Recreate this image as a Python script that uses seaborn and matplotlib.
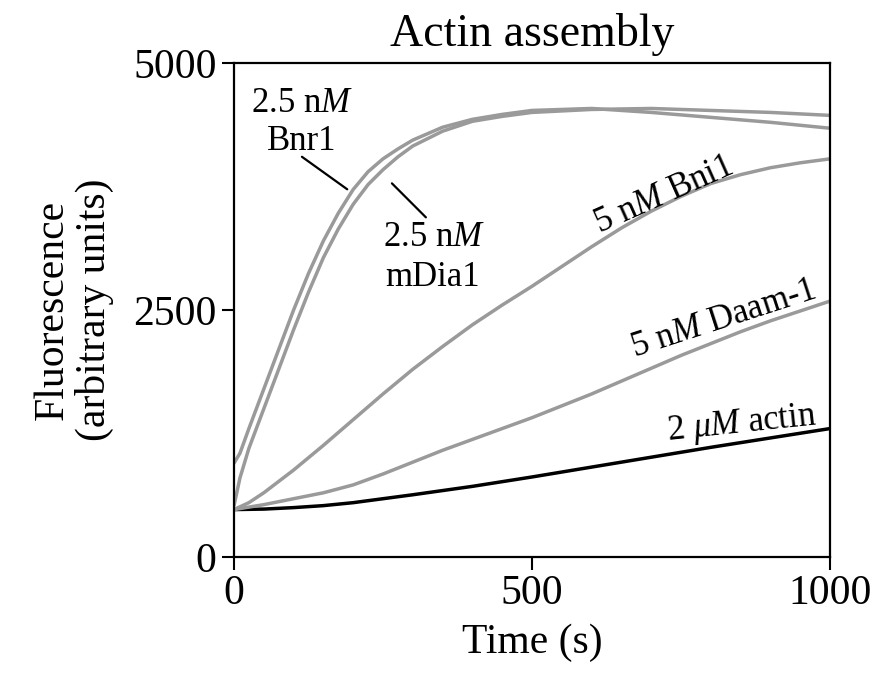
import pandas as pd
import seaborn as sns
import matplotlib.pyplot as plt

# values (time in s, fluorescence in a.u.)
actin_t = [0, 50, 100, 150, 200, 250, 300, 400, 500, 600, 700, 800, 900, 1000]
actin_v = [480, 485, 500, 520, 550, 590, 630, 715, 810, 910, 1010, 1110, 1205, 1300]

daam_t = [0, 50, 100, 150, 200, 250, 300, 350, 400, 450, 500, 550, 600, 650, 700, 750, 800, 850, 900, 950, 1000]
daam_v = [480, 530, 590, 650, 730, 840, 960, 1080, 1190, 1300, 1410, 1530, 1650, 1780, 1910, 2040, 2160, 2280, 2390, 2490, 2590]

bni1_t = [0, 25, 50, 100, 150, 200, 250, 300, 350, 400, 450, 500, 550, 600, 650, 700, 750, 800, 850, 900, 950, 1000]
bni1_v = [480, 550, 650, 880, 1130, 1390, 1650, 1900, 2130, 2350, 2550, 2740, 2940, 3140, 3330, 3500, 3650, 3780, 3870, 3940, 3990, 4030]

bnr1_t = [0, 10, 25, 50, 75, 100, 125, 150, 175, 200, 225, 250, 275, 300, 350, 400, 450, 500, 600, 700, 800, 900, 1000]
bnr1_v = [950, 1050, 1300, 1700, 2100, 2500, 2870, 3200, 3480, 3720, 3900, 4030, 4130, 4220, 4350, 4430, 4480, 4520, 4540, 4500, 4450, 4400, 4340]

mdia_t = [0, 10, 25, 50, 75, 100, 125, 150, 175, 200, 225, 250, 275, 300, 350, 400, 450, 500, 600, 700, 800, 900, 1000]
mdia_v = [520, 800, 1100, 1500, 1900, 2300, 2680, 3030, 3320, 3570, 3770, 3920, 4050, 4160, 4310, 4410, 4460, 4500, 4530, 4540, 4520, 4500, 4470]

series = {
    'actin': (actin_t, actin_v),
    'Daam-1': (daam_t, daam_v),
    'Bni1': (bni1_t, bni1_v),
    'Bnr1': (bnr1_t, bnr1_v),
    'mDia1': (mdia_t, mdia_v),
}
frames = []
for name, (t, v) in series.items():
    frames.append(pd.DataFrame({'time': t, 'fluor': v, 'name': name}))
df = pd.concat(frames, ignore_index=True)

sns.set_theme(style='ticks')
plt.rcParams['font.family'] = ['Liberation Serif', 'DejaVu Serif']
plt.rcParams['mathtext.fontset'] = 'custom'
plt.rcParams['mathtext.rm'] = 'Liberation Serif'
plt.rcParams['mathtext.it'] = 'Liberation Serif:italic'
plt.rcParams['text.color'] = 'black'
plt.rcParams['axes.labelcolor'] = 'black'

grey = '#9a9a9a'
pal = {'actin': 'black', 'Daam-1': grey, 'Bni1': grey, 'Bnr1': grey, 'mDia1': grey}

fig = plt.figure(figsize=(8.87, 6.88), dpi=100)
ax = fig.add_axes([0.2638, 0.1904, 0.6719, 0.718])

sns.lineplot(data=df, x='time', y='fluor', hue='name', palette=pal,
             linewidth=2.5, legend=False, ax=ax, sort=False, estimator=None)

ax.set_xlim(0, 1000)
ax.set_ylim(0, 5000)
ax.set_xticks([0, 500, 1000])
ax.set_yticks([0, 2500, 5000])
ax.tick_params(labelsize=30, length=9, width=1.5, direction='out', colors='black',
               top=False, right=False)
for s in ax.spines.values():
    s.set_linewidth(1.6)
    s.set_color('black')

ax.set_xlabel('Time (s)', fontsize=30, labelpad=8)
ax.set_ylabel('Fluorescence\n(arbitrary units)', fontsize=30, labelpad=14, linespacing=1.1)
ax.set_title('Actin assembly', fontsize=33, pad=12)

fs = 25
ax.text(114, 4595, '2.5 n$M$', fontsize=fs, ha='center', va='center')
ax.text(114, 4210, 'Bnr1', fontsize=fs, ha='center', va='center')
ax.plot([114, 190], [4051, 3722], color='black', lw=1.6)
ax.text(336, 3239, '2.5 n$M$', fontsize=fs, ha='center', va='center')
ax.text(334, 2834, 'mDia1', fontsize=fs, ha='center', va='center')
ax.plot([265, 322], [3782, 3438], color='black', lw=1.6)

ax.text(720, 3660, '5 n$M$ Bni1', fontsize=fs, ha='center', va='center',
        rotation=24, rotation_mode='anchor')
ax.text(822, 2410, '5 n$M$ Daam-1', fontsize=fs, ha='center', va='center',
        rotation=18, rotation_mode='anchor')
ax.text(852, 1345, r'2 $\mu M$ actin', fontsize=fs, ha='center', va='center',
        rotation=6, rotation_mode='anchor')

fig.savefig('out.png', dpi=100)
